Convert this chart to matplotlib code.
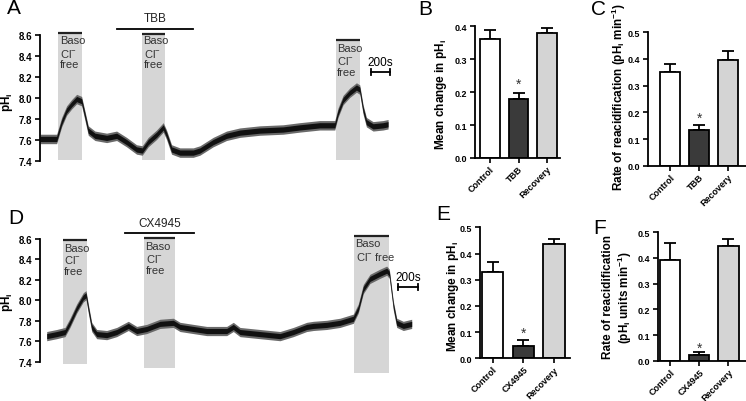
import numpy as np
import matplotlib
matplotlib.use('Agg')
import matplotlib.pyplot as plt

plt.rcParams['font.family'] = ['Liberation Sans', 'DejaVu Sans']
plt.rcParams['mathtext.fontset'] = 'custom'
plt.rcParams['mathtext.rm'] = 'Liberation Sans'
plt.rcParams['mathtext.bf'] = 'Liberation Sans:bold'
plt.rcParams['axes.linewidth'] = 1.3

# ---- trace A (TBB), time in s, pHi
time_a = [0, 182, 237, 291, 346, 401, 455, 492, 528, 601, 729, 838, 947, 1056, 1118,
          1184, 1275, 1348, 1384, 1439, 1530, 1676, 1749, 1894, 2040, 2186, 2404, 2659,
          2842, 3060, 3224, 3260, 3315, 3388, 3461, 3497, 3534, 3570, 3643, 3752, 3807]
ph_a = [7.61, 7.61, 7.77, 7.88, 7.94, 7.99, 7.97, 7.83, 7.69, 7.64, 7.62, 7.64, 7.58, 7.51, 7.50,
        7.58, 7.65, 7.72, 7.65, 7.51, 7.48, 7.48, 7.50, 7.58, 7.64, 7.67, 7.69, 7.70,
        7.72, 7.74, 7.74, 7.86, 7.98, 8.05, 8.10, 8.08, 7.89, 7.77, 7.73, 7.74, 7.75]
boxes_a = [(200, 455, 8.62), (1118, 1366, 8.61), (3235, 3501, 8.55)]
drug_a = ('TBB', 838, 1676)

# ---- trace D (CX4945)
time_d = [67, 167, 250, 300, 367, 433, 460, 483, 517, 567, 667, 767, 883, 967, 1067, 1200,
          1333, 1400, 1533, 1667, 1867, 1933, 2000, 2200, 2400, 2533, 2667, 2733, 2867, 3000,
          3133, 3183, 3233, 3300, 3400, 3467, 3493, 3533, 3567, 3633, 3717]
ph_d = [7.65, 7.67, 7.69, 7.78, 7.92, 8.03, 8.05, 7.92, 7.74, 7.67, 7.66, 7.69, 7.75, 7.70, 7.72, 7.77,
        7.78, 7.74, 7.72, 7.70, 7.70, 7.74, 7.69, 7.67, 7.65, 7.69, 7.74, 7.75, 7.76, 7.78,
        7.82, 7.92, 8.11, 8.21, 8.26, 8.29, 8.26, 7.95, 7.78, 7.75, 7.77]
boxes_d = [(227, 467, 8.59, 7.38), (1040, 1353, 8.61, 7.34), (3140, 3493, 8.63, 7.29)]
drug_d = ('CX4945', 850, 1540)

# ---- bar panels
groups_top = ['Control', 'TBB', 'Recovery']
groups_bot = ['Control', 'CX4945', 'Recovery']
change_b = [0.36, 0.18, 0.38]
change_b_err = [0.03, 0.017, 0.015]
rate_c = [0.35, 0.133, 0.397]
rate_c_err = [0.031, 0.018, 0.032]
change_e = [0.331, 0.048, 0.436]
change_e_err = [0.035, 0.022, 0.021]
rate_f = [0.391, 0.023, 0.445]
rate_f_err = [0.068, 0.012, 0.027]

W, H = 746, 402
fig = plt.figure(figsize=(W / 100, H / 100), dpi=100)


def px_axes(l, t, r, b):
    return fig.add_axes([l / W, 1 - b / H, (r - l) / W, (b - t) / H])


bar_colors = ['white', '#3a3a3a', '#d4d4d4']
box_gray = '#d6d6d6'


def trace_panel(ax, t, v, boxes, drug, xmax, bottoms, labels, scale):
    ax.set_xlim(0, xmax)
    ax.set_ylim(7.4, 8.6)
    for (x0, x1, top), bot in zip(boxes, bottoms):
        ax.fill_between([x0, x1], [bot, bot], [top, top], color=box_gray, lw=0,
                        clip_on=False, zorder=1)
        ax.plot([x0, x1], [top, top], color='#222222', lw=1.6, clip_on=False,
                solid_capstyle='butt', zorder=3)
    t = np.array(t)
    v = np.array(v)
    # noisy recording drawn as an envelope around the read trace
    ax.fill_between(t, v - 0.045, v + 0.045, color='#6a6a6a', lw=0, zorder=2)
    ax.fill_between(t, v - 0.025, v + 0.025, color='#111111', lw=0, zorder=2)
    name, d0, d1, dy = drug
    ax.plot([d0, d1], [dy, dy], color='black', lw=1.3, clip_on=False)
    ax.text((d0 + d1) / 2, dy + 0.045, name, ha='center', va='bottom', fontsize=8.5,
            color='#222222', clip_on=False)
    for x, y, s in labels:
        ax.text(x, y, s, ha='left', va='center', fontsize=8, color='#333333',
                linespacing=1.05)
    s0, s1, sy = scale
    ax.plot([s0, s1], [sy, sy], color='black', lw=1.3)
    for sx in (s0, s1):
        ax.plot([sx, sx], [sy - 0.03, sy + 0.03], color='black', lw=1.3)
    ax.text((s0 + s1) / 2, sy + 0.04, '200s', ha='center', va='bottom', fontsize=8.5)
    for sp in ['top', 'right', 'bottom']:
        ax.spines[sp].set_visible(False)
    ax.set_xticks([])
    ax.set_yticks(np.arange(7.4, 8.61, 0.2))
    ax.set_yticklabels([f'{y:.1f}' for y in np.arange(7.4, 8.61, 0.2)])
    ax.tick_params(axis='y', length=3.5, width=1.2, labelsize=7, pad=2)
    for lab in ax.get_yticklabels():
        lab.set_fontweight('bold')


def bar_panel(ax, names, vals, errs, ymax, xlim, star):
    x = np.arange(len(names))
    ax.bar(x, vals, width=0.69, color=bar_colors, edgecolor='black', lw=1.3, zorder=2)
    ax.errorbar(x, vals, yerr=[np.zeros(len(errs)), errs], fmt='none', ecolor='black',
                elinewidth=1.3, capsize=4, capthick=1.3, zorder=1)
    ax.text(1, star, '*', ha='center', va='center', fontsize=10, color='#333333')
    ax.set_ylim(0, ymax)
    ax.set_xlim(*xlim)
    ax.set_yticks(np.arange(0, ymax + 0.001, 0.1))
    ax.set_yticklabels([f'{y:.1f}' for y in np.arange(0, ymax + 0.001, 0.1)])
    ax.set_xticks(x)
    ax.set_xticklabels(names, rotation=45, ha='right', rotation_mode='anchor')
    ax.tick_params(length=3.5, width=1.2, labelsize=6.5, pad=2)
    ax.tick_params(axis='x', labelsize=6.5, pad=1)
    for lab in ax.get_yticklabels() + ax.get_xticklabels():
        lab.set_fontweight('bold')
    ax.spines['top'].set_visible(False)
    ax.spines['right'].set_visible(False)


ax_a = px_axes(40, 36, 392, 162)
trace_panel(ax_a, time_a, ph_a, boxes_a, drug_a + (8.657,), 3850,
            [7.41, 7.41, 7.41],
            [(215, 8.555, 'Baso'), (215, 8.38, 'Cl$^{-}$\nfree'),
             (1133, 8.55, 'Baso'), (1133, 8.38, 'Cl$^{-}$\nfree'),
             (3250, 8.48, 'Baso'), (3250, 8.31, 'Cl$^{-}$\nfree')],
            (3625, 3825, 8.25))

ax_d = px_axes(40, 240, 420, 362.7)
trace_panel(ax_d, time_d, ph_d, [b[:3] for b in boxes_d], drug_d + (8.655,), 3800,
            [b[3] for b in boxes_d],
            [(240, 8.51, 'Baso'), (240, 8.35, 'Cl$^{-}$\nfree'),
             (1055, 8.53, 'Baso'), (1055, 8.36, 'Cl$^{-}$\nfree'),
             (3155, 8.56, 'Baso'), (3155, 8.43, 'Cl$^{-}$ free')],
            (3580, 3780, 8.13))

ax_b = px_axes(475, 27.3, 560, 159)
bar_panel(ax_b, groups_top, change_b, change_b_err, 0.4, (-0.52, 2.45), 0.225)
ax_c = px_axes(648, 33.3, 746, 166.7)
bar_panel(ax_c, groups_top, rate_c, rate_c_err, 0.5, (-0.76, 2.62), 0.179)
ax_e = px_axes(480, 228.3, 570, 359.3)
bar_panel(ax_e, groups_bot, change_e, change_e_err, 0.5, (-0.41, 2.52), 0.096)
ax_f = px_axes(658, 233.3, 746, 361.7)
bar_panel(ax_f, groups_bot, rate_f, rate_f_err, 0.5, (-0.41, 2.6), 0.049)


def ftext(x, y, s, **kw):
    fig.text(x / W, 1 - y / H, s, **kw)


lab = dict(rotation=90, ha='center', va='center', fontsize=8.5, fontweight='bold')
ftext(7, 102, r'pH$_\mathbf{i}$', **lab)
ftext(7, 302, r'pH$_\mathbf{i}$', **lab)
ftext(441, 94, r'Mean change in pH$_\mathbf{i}$', **lab)
ftext(619, 97, r'Rate of reacidification (pH$_\mathbf{i}$ min$^\mathbf{-1}$)', **lab)
ftext(453, 296, r'Mean change in pH$_\mathbf{i}$', **lab)
ftext(618, 297, 'Rate of reacidification\n' r'(pH$_\mathbf{i}$ units min$^\mathbf{-1}$)',
      multialignment='center', linespacing=1.15, **lab)

panel = dict(fontsize=15, ha='left', va='top')
ftext(7, -1, 'A', **panel)
ftext(418, 0, 'B', **panel)
ftext(591, 0, 'C', **panel)
ftext(8, 209, 'D', **panel)
ftext(436, 205, 'E', **panel)
ftext(593, 219, 'F', **panel)

fig.savefig('out.png', dpi=100)
